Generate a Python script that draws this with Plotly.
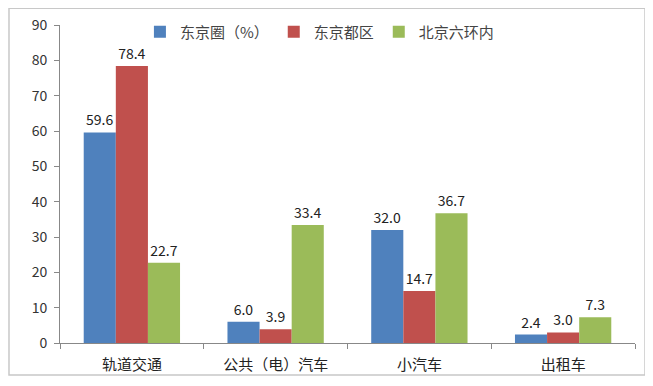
import plotly.graph_objects as go

categories = ["轨道交通", "公共（电）汽车", "小汽车", "出租车"]
series_names = ["东京圈（%）", "东京都区", "北京六环内"]
tokyo_area = [59.6, 6.0, 32.0, 2.4]
tokyo_wards = [78.4, 3.9, 14.7, 3.0]
beijing_6ring = [22.7, 33.4, 36.7, 7.3]
colors = ["#4F81BD", "#C0504D", "#9BBB59"]
y_ticks = [0, 10, 20, 30, 40, 50, 60, 70, 80, 90]

FONT = "Noto Sans CJK SC, Noto Sans, sans-serif"

fig = go.Figure()
for name, vals, col in zip(series_names, [tokyo_area, tokyo_wards, beijing_6ring], colors):
    fig.add_trace(go.Bar(
        x=categories, y=vals, name=name,
        marker=dict(color=col, line=dict(width=0)),
        text=[f"{v:.1f}" for v in vals],
        textposition="outside",
        textfont=dict(size=14, color="#222222", family=FONT),
        cliponaxis=False,
    ))

fig.update_layout(
    width=653, height=386,
    margin=dict(l=52, r=26, t=17, b=51, autoexpand=False),
    paper_bgcolor="white", plot_bgcolor="white",
    barmode="group", bargap=0.33, bargroupgap=0,
    font=dict(family=FONT, size=13, color="#333333"),
    legend=dict(orientation="h", x=0.139, y=1.03, xanchor="left", yanchor="top",
                font=dict(size=15, color="#444444"), itemwidth=30,
                bgcolor="rgba(0,0,0,0)", traceorder="normal"),
    showlegend=True,
    shapes=[dict(type="rect", xref="paper", yref="paper",
                 x0=-0.0887, x1=1.0174, y0=-0.1006, y1=1.053,
                 line=dict(color="#C8C8C8", width=1.5), fillcolor="rgba(0,0,0,0)", layer="below")],
)
fig.update_xaxes(showline=True, linecolor="#888888", linewidth=1,
                 ticks="outside", tickson="boundaries", ticklen=5, tickcolor="#888888",
                 ticklabelstandoff=8,
                 tickfont=dict(size=15, color="#222222"), showgrid=False)
fig.update_yaxes(range=[0, 90], tickvals=y_ticks, showline=True, linecolor="#888888", linewidth=1,
                 ticks="outside", ticklen=5, tickcolor="#888888", ticklabelstandoff=4,
                 tickfont=dict(size=14, color="#333333"), showgrid=False, zeroline=False)

fig.write_html("out.html")
